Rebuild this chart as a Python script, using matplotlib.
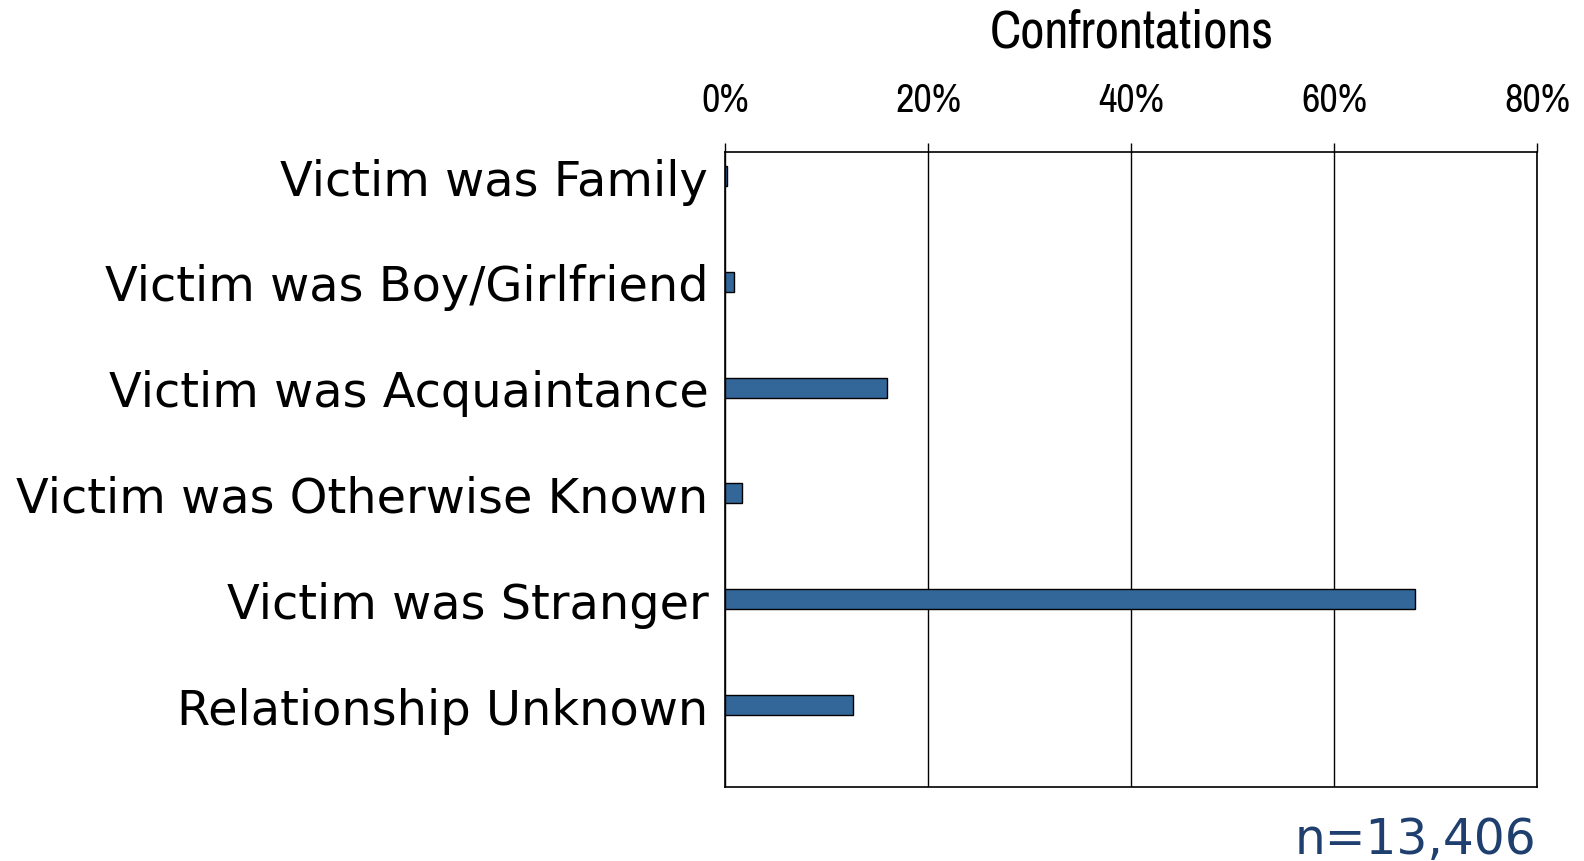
import matplotlib.pyplot as plt
from matplotlib import font_manager

# ---------------- DATA ----------------
categories = [
    "Victim was Family",
    "Victim was Boy/Girlfriend",
    "Victim was Acquaintance",
    "Victim was Otherwise Known",
    "Victim was Stranger",
    "Relationship Unknown",
]
values = [0.2, 0.9, 16.0, 1.7, 68.0, 12.6]
x_ticks = [0, 20, 40, 60, 80]
x_tick_labels = ["0%", "20%", "40%", "60%", "80%"]
title = "Confrontations"
note = "n=13,406"

names = sorted({f.name for f in font_manager.fontManager.ttflist})
cond = [n for n in names if "Condensed" in n or "Narrow" in n]
narrow = cond[0] if cond else "DejaVu Sans"

# ---------------- PLOT ----------------
fig = plt.figure(figsize=(15.84, 8.62), dpi=100)
ax = fig.add_axes([0.4577, 0.0858, 0.9703 - 0.4577, 0.8225 - 0.0858])

pos = list(range(len(categories)))
ax.barh(pos, values, height=0.19, color="#336699", edgecolor="black", linewidth=1, zorder=3)

ax.set_xlim(0, 80)
ax.set_ylim(5.775, -0.227)

ax.xaxis.tick_top()
ax.set_xticks(x_ticks)
ax.set_xticklabels(x_tick_labels, fontsize=29, family=narrow, stretch="condensed")
ax.tick_params(axis="x", direction="out", length=6.5, width=1, pad=18)
ax.set_yticks(pos)
ax.set_yticklabels(categories, fontsize=34.5)
ax.tick_params(axis="y", length=0, pad=12)

ax.grid(axis="x", color="black", linewidth=1, zorder=0)
for s in ax.spines.values():
    s.set_color("black")
    s.set_linewidth(1.2)

fig.text(0.7145, 0.962, title, ha="center", va="center", fontsize=38, family=narrow, stretch="condensed")
fig.text(0.970, 0.026, note, ha="right", va="center", fontsize=35, color="#1F3F6E")

fig.savefig("out.png", dpi=100)
